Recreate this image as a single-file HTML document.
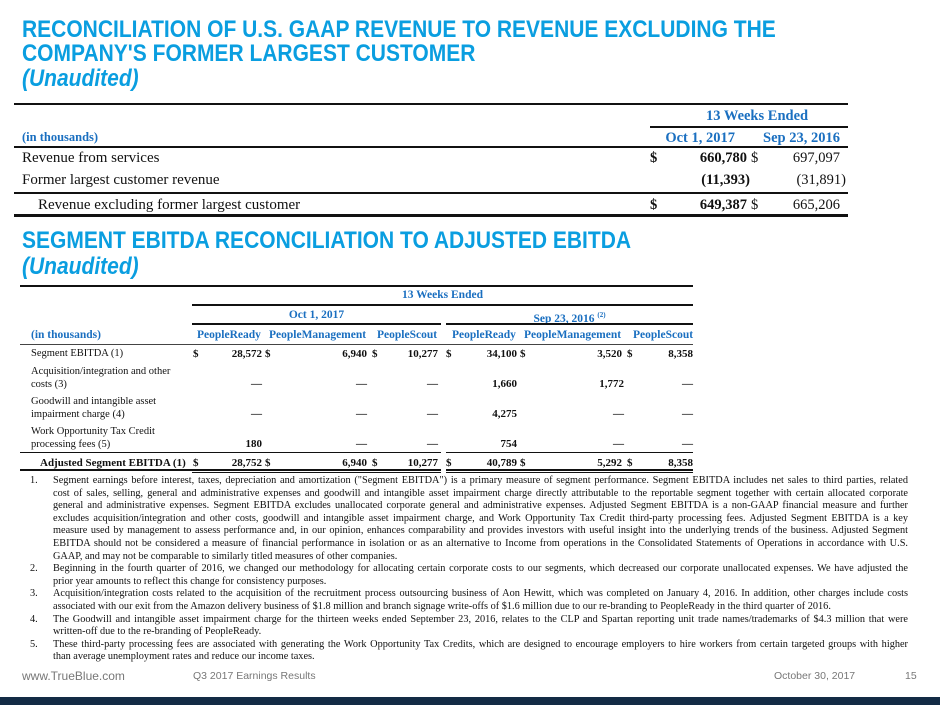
<!DOCTYPE html>
<html><head><meta charset="utf-8">
<style>
*{margin:0;padding:0;box-sizing:border-box}
body{width:940px;height:705px;background:#fff;position:relative;overflow:hidden;font-family:"Liberation Serif",serif;color:#111}
.t{position:absolute;white-space:nowrap}
.h{position:absolute;left:22px;font-family:"Liberation Sans",sans-serif;font-weight:bold;color:#0a9ee0;font-size:24px;transform:scaleX(0.875);transform-origin:left top;white-space:nowrap;line-height:24px}
.r{position:absolute;text-align:right;white-space:nowrap}
.c{position:absolute;text-align:center;white-space:nowrap}
.b{font-weight:bold}
.bl{color:#1a6fc0;font-weight:bold}
.ln{position:absolute;background:#111}
.s{font-size:14.5px}
.x{font-size:11.5px;line-height:13px}
.y{font-size:10.5px;line-height:12.5px}
.yb{font-size:11px;line-height:12.5px;font-weight:bold}
.fl{position:absolute;left:53px;width:855px;height:13px;overflow:hidden;font-size:10.3px;line-height:13px;text-align:justify;text-align-last:justify;white-space:normal}
.fl.e{text-align-last:left}
.fnum{position:absolute;left:30px;font-size:10.3px;line-height:13px}
.ft{position:absolute;top:669px;font-family:'Liberation Sans',sans-serif;color:#777;white-space:nowrap}
</style></head><body>
<div class="h" style="top:18px">RECONCILIATION OF U.S. GAAP REVENUE TO REVENUE EXCLUDING THE</div>
<div class="h" style="top:42px">COMPANY'S FORMER LARGEST CUSTOMER</div>
<div class="h" style="top:67px;font-style:italic">(Unaudited)</div>

<!-- table 1 -->
<div class="ln" style="left:14px;top:103px;width:834px;height:2px"></div>
<div class="t bl s" style="left:706px;top:108px">13 Weeks Ended</div>
<div class="ln" style="left:650px;top:126px;width:198px;height:1.5px"></div>
<div class="t bl" style="left:22px;top:130px;font-size:12.5px">(in thousands)</div>
<div class="r bl s" style="left:600px;width:135px;top:130px">Oct 1, 2017</div>
<div class="r bl s" style="left:740px;width:100px;top:130px">Sep 23, 2016</div>
<div class="ln" style="left:14px;top:146px;width:834px;height:2px"></div>
<div class="t" style="left:22px;top:150px;font-size:15px">Revenue from services</div>
<div class="t s b" style="left:650px;top:150px">$</div>
<div class="r s b" style="left:600px;width:147px;top:150px">660,780</div>
<div class="t s" style="left:751px;top:150px">$</div>
<div class="r s" style="left:740px;width:100px;top:150px">697,097</div>
<div class="t" style="left:22px;top:172px;font-size:15px">Former largest customer revenue</div>
<div class="r s b" style="left:600px;width:150px;top:172px">(11,393)</div>
<div class="r s" style="left:740px;width:106px;top:172px">(31,891)</div>
<div class="ln" style="left:14px;top:192px;width:834px;height:2px"></div>
<div class="t" style="left:38px;top:197px;font-size:15px">Revenue excluding former largest customer</div>
<div class="t s b" style="left:650px;top:197px">$</div>
<div class="r s b" style="left:600px;width:147px;top:197px">649,387</div>
<div class="t s" style="left:751px;top:197px">$</div>
<div class="r s" style="left:740px;width:100px;top:197px">665,206</div>
<div class="ln" style="left:14px;top:214px;width:834px;height:3px"></div>

<div class="h" style="top:229px">SEGMENT EBITDA RECONCILIATION TO ADJUSTED EBITDA</div>
<div class="h" style="top:255px;font-style:italic">(Unaudited)</div>

<!-- table 2 -->
<div class="ln" style="left:20px;top:285px;width:673px;height:1.5px"></div>
<div class="c bl x" style="left:192px;width:501px;top:289px">13 Weeks Ended</div>
<div class="ln" style="left:192px;top:304px;width:501px;height:1.5px"></div>
<div class="c bl x" style="left:192px;width:249px;top:309px">Oct 1, 2017</div>
<div class="c bl x" style="left:446px;width:247px;top:309px">Sep 23, 2016 <sup style="font-size:7px">(2)</sup></div>
<div class="ln" style="left:192px;top:323px;width:249px;height:1.5px"></div>
<div class="ln" style="left:446px;top:323px;width:247px;height:1.5px"></div>
<div class="t bl x" style="left:31px;top:329px">(in thousands)</div>
<div class="t bl x" style="left:197px;top:329px">PeopleReady</div>
<div class="t bl x" style="left:269px;top:329px">PeopleManagement</div>
<div class="t bl x" style="left:377px;top:329px">PeopleScout</div>
<div class="t bl x" style="left:452px;top:329px">PeopleReady</div>
<div class="t bl x" style="left:524px;top:329px">PeopleManagement</div>
<div class="t bl x" style="left:633px;top:329px">PeopleScout</div>
<div class="ln" style="left:20px;top:344px;width:673px;height:1px;background:#444"></div>

<div class="t y" style="left:31px;top:348px">Segment EBITDA (1)</div>
<div class="t y" style="left:31px;top:366px">Acquisition/integration and other<br>costs (3)</div>
<div class="t y" style="left:31px;top:396px">Goodwill and intangible asset<br>impairment charge (4)</div>
<div class="t y" style="left:31px;top:426px">Work Opportunity Tax Credit<br>processing fees (5)</div>
<div class="t yb" style="left:40px;top:457px">Adjusted Segment EBITDA (1)</div>

<div class="ln" style="left:20px;top:452px;width:421px;height:1.2px"></div>
<div class="ln" style="left:446px;top:452px;width:247px;height:1.2px"></div>
<div class="ln" style="left:20px;top:469px;width:421px;height:1.5px"></div>
<div class="ln" style="left:446px;top:469px;width:247px;height:1.5px"></div>
<div class="ln" style="left:192px;top:472px;width:249px;height:1px"></div>
<div class="ln" style="left:446px;top:472px;width:247px;height:1px"></div>

<!-- row 1 -->
<div class="t yb" style="left:193px;top:348px">$</div>
<div class="r yb" style="left:200px;width:62px;top:348px">28,572</div>
<div class="t yb" style="left:265px;top:348px">$</div>
<div class="r yb" style="left:300px;width:67px;top:348px">6,940</div>
<div class="t yb" style="left:372px;top:348px">$</div>
<div class="r yb" style="left:378px;width:60px;top:348px">10,277</div>
<div class="t yb" style="left:446px;top:348px">$</div>
<div class="r yb" style="left:457px;width:60px;top:348px">34,100</div>
<div class="t yb" style="left:520px;top:348px">$</div>
<div class="r yb" style="left:562px;width:60px;top:348px">3,520</div>
<div class="t yb" style="left:627px;top:348px">$</div>
<div class="r yb" style="left:633px;width:60px;top:348px">8,358</div>

<!-- row 2 -->
<div class="r yb" style="left:200px;width:62px;top:378px">—</div>
<div class="r yb" style="left:300px;width:67px;top:378px">—</div>
<div class="r yb" style="left:378px;width:60px;top:378px">—</div>
<div class="r yb" style="left:457px;width:60px;top:378px">1,660</div>
<div class="r yb" style="left:562px;width:62px;top:378px">1,772</div>
<div class="r yb" style="left:633px;width:60px;top:378px">—</div>

<!-- row 3 -->
<div class="r yb" style="left:200px;width:62px;top:408px">—</div>
<div class="r yb" style="left:300px;width:67px;top:408px">—</div>
<div class="r yb" style="left:378px;width:60px;top:408px">—</div>
<div class="r yb" style="left:457px;width:60px;top:408px">4,275</div>
<div class="r yb" style="left:562px;width:62px;top:408px">—</div>
<div class="r yb" style="left:633px;width:60px;top:408px">—</div>

<!-- row 4 -->
<div class="r yb" style="left:200px;width:62px;top:438px">180</div>
<div class="r yb" style="left:300px;width:67px;top:438px">—</div>
<div class="r yb" style="left:378px;width:60px;top:438px">—</div>
<div class="r yb" style="left:457px;width:60px;top:438px">754</div>
<div class="r yb" style="left:562px;width:62px;top:438px">—</div>
<div class="r yb" style="left:633px;width:60px;top:438px">—</div>

<!-- row 5 -->
<div class="t yb" style="left:193px;top:457px">$</div>
<div class="r yb" style="left:200px;width:62px;top:457px">28,752</div>
<div class="t yb" style="left:265px;top:457px">$</div>
<div class="r yb" style="left:300px;width:67px;top:457px">6,940</div>
<div class="t yb" style="left:372px;top:457px">$</div>
<div class="r yb" style="left:378px;width:60px;top:457px">10,277</div>
<div class="t yb" style="left:446px;top:457px">$</div>
<div class="r yb" style="left:457px;width:60px;top:457px">40,789</div>
<div class="t yb" style="left:520px;top:457px">$</div>
<div class="r yb" style="left:562px;width:60px;top:457px">5,292</div>
<div class="t yb" style="left:627px;top:457px">$</div>
<div class="r yb" style="left:633px;width:60px;top:457px">8,358</div>

<!-- footnotes -->
<div class="fnum" style="top:474px">1.</div>
<div class="fl" style="top:474px">Segment earnings before interest, taxes, depreciation and amortization ("Segment EBITDA") is a primary measure of segment performance. Segment EBITDA includes net sales to third parties, related</div>
<div class="fl" style="top:486.6px">cost of sales, selling, general and administrative expenses and goodwill and intangible asset impairment charge directly attributable to the reportable segment together with certain allocated corporate</div>
<div class="fl" style="top:499.2px">general and administrative expenses. Segment EBITDA excludes unallocated corporate general and administrative expenses. Adjusted Segment EBITDA is a non-GAAP financial measure and further</div>
<div class="fl" style="top:511.8px">excludes acquisition/integration and other costs, goodwill and intangible asset impairment charge, and Work Opportunity Tax Credit third-party processing fees. Adjusted Segment EBITDA is a key</div>
<div class="fl" style="top:524.4px">measure used by management to assess performance and, in our opinion, enhances comparability and provides investors with useful insight into the underlying trends of the business. Adjusted Segment</div>
<div class="fl" style="top:537px">EBITDA should not be considered a measure of financial performance in isolation or as an alternative to Income from operations in the Consolidated Statements of Operations in accordance with U.S.</div>
<div class="fl e" style="top:549.6px">GAAP, and may not be comparable to similarly titled measures of other companies.</div>
<div class="fnum" style="top:562.2px">2.</div>
<div class="fl" style="top:562.2px">Beginning in the fourth quarter of 2016, we changed our methodology for allocating certain corporate costs to our segments, which decreased our corporate unallocated expenses. We have adjusted the</div>
<div class="fl e" style="top:574.8px">prior year amounts to reflect this change for consistency purposes.</div>
<div class="fnum" style="top:587.4px">3.</div>
<div class="fl" style="top:587.4px">Acquisition/integration costs related to the acquisition of the recruitment process outsourcing business of Aon Hewitt, which was completed on January 4, 2016. In addition, other charges include costs</div>
<div class="fl e" style="top:600px">associated with our exit from the Amazon delivery business of $1.8 million and branch signage write-offs of $1.6 million due to our re-branding to PeopleReady in the third quarter of 2016.</div>
<div class="fnum" style="top:612.6px">4.</div>
<div class="fl" style="top:612.6px">The Goodwill and intangible asset impairment charge for the thirteen weeks ended September 23, 2016, relates to the CLP and Spartan reporting unit trade names/trademarks of $4.3 million that were</div>
<div class="fl e" style="top:625.2px">written-off due to the re-branding of PeopleReady.</div>
<div class="fnum" style="top:637.8px">5.</div>
<div class="fl" style="top:637.8px">These third-party processing fees are associated with generating the Work Opportunity Tax Credits, which are designed to encourage employers to hire workers from certain targeted groups with higher</div>
<div class="fl e" style="top:650.4px">than average unemployment rates and reduce our income taxes.</div>

<!-- footer -->
<div class="ft" style="left:22px;font-size:12px">www.TrueBlue.com</div>
<div class="ft" style="left:193px;font-size:10.5px;top:670px">Q3 2017 Earnings Results</div>
<div class="ft" style="left:774px;font-size:10.5px;top:670px">October 30, 2017</div>
<div class="ft" style="left:905px;font-size:10.5px;top:670px">15</div>
<div style="position:absolute;left:0;top:697px;width:940px;height:8px;background:#132b45"></div>
</body></html>
